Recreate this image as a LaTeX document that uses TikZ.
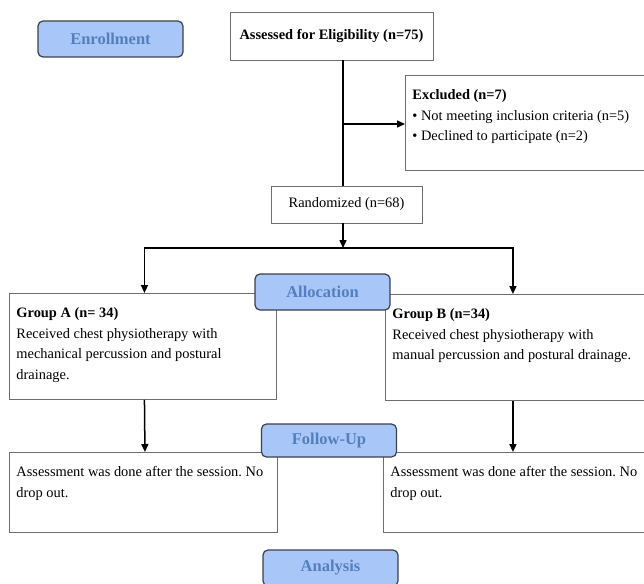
\documentclass[tikz,border=0pt]{standalone}
\usepackage{fontspec}
\setmainfont{Liberation Serif}
\usetikzlibrary{arrows.meta}
\frenchspacing

\definecolor{stage-fill}{RGB}{169,198,248}
\definecolor{stage-text}{RGB}{84,127,190}
\definecolor{stage-line}{RGB}{60,64,72}
\definecolor{box-line}{RGB}{110,110,110}

\tikzstyle{block} = [draw=box-line, line width=0.9pt, rectangle, fill=white]
\tikzstyle{info-block} = [block, anchor=north west, inner xsep=7pt, inner ysep=10pt]
\tikzstyle{count-block} = [block, inner sep=0pt]
\tikzstyle{stage-block} = [draw=stage-line, line width=1.2pt, fill=stage-fill, rounded corners=5pt, text=stage-text, font=\bfseries\fontsize{16.5}{20}\selectfont, minimum width=135pt, minimum height=36pt, inner sep=0pt]
\tikzstyle{flow} = [line width=1.5pt, black]
\tikzstyle{flow-arrow} = [flow, -{Triangle[length=8pt,width=7pt]}]

\newcommand{\boxtext}[3]{\begin{minipage}[c][#2][t]{#1}\raggedright\strut #3\end{minipage}}

\begin{document}
\begin{tikzpicture}[x=1pt, y=-1pt, font=\fontsize{14.4}{20.5}\selectfont]

	\useasboundingbox (0,0) rectangle (644,583);

	% boxes
	\node [count-block, minimum width=203pt, minimum height=48pt, font=\bfseries\fontsize{14.4}{20.5}\selectfont] (assessed) at (331.5,36) {Assessed for Eligibility (n=75)};
	\node [info-block] (excluded) at (405,75) {\boxtext{226pt}{75pt}{\textbf{Excluded (n=7)}\\• Not meeting inclusion criteria (n=5)\\• Declined to participate (n=2)}};
	\node [count-block, minimum width=151pt, minimum height=37pt] (randomized) at (346.5,204.5) {Randomized (n=68)};
	\node [info-block] (groupA) at (9,293) {\boxtext{253pt}{86pt}{\textbf{Group A (n= 34)}\\Received chest physiotherapy with\\mechanical percussion and postural\\drainage.}};
	\node [info-block] (groupB) at (385,294) {\boxtext{246pt}{86pt}{\textbf{Group B (n=34)}\\Received chest physiotherapy with\\manual percussion and postural drainage.}};
	\node [info-block] (assessA) at (9,452) {\boxtext{254pt}{60pt}{Assessment was done after the session. No\\drop out.}};
	\node [info-block] (assessB) at (383,452) {\boxtext{248pt}{60pt}{Assessment was done after the session. No\\drop out.}};

	% connectors
	\coordinate (split) at (343,124);
	\coordinate (fork) at (343,248);
	\draw [flow] ([xshift=11.5pt]assessed.south) -- ([xshift=-3.5pt]randomized.north);
	\draw [flow-arrow] (split) -- (excluded.west |- split);
	\draw [flow-arrow] ([xshift=-3.5pt]randomized.south) -- (fork);
	\draw [flow-arrow] (fork) -| ([xshift=1.5pt]groupA.north);
	\draw [flow-arrow] (fork) -| ([xshift=-2.5pt]groupB.north);
	\draw [flow-arrow] ([xshift=1.5pt]groupA.south) -- ([xshift=1.5pt]assessA.north);
	\draw [flow-arrow] ([xshift=-2.5pt]groupB.south) -- ([xshift=-2.5pt]groupB.south |- assessB.north);

	% stage labels
	\node [stage-block, minimum width=145pt] (enrollment) at (110.5,39) {Enrollment};
	\node [stage-block] (allocation) at (322.5,292) {Allocation};
	\node [stage-block, minimum height=33pt] (followup) at (329,440.5) {Follow-Up};
	\node [stage-block] (analysis) at (330.5,568) {Analysis};

\end{tikzpicture}
\end{document}
